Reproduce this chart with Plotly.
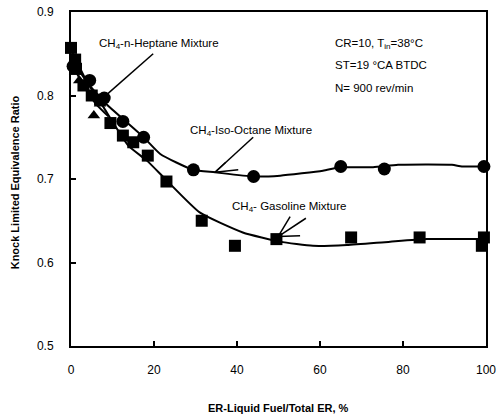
import plotly.graph_objects as go

# ---- data ----
gas_x = [0, 1, 1.2, 3, 5, 7, 9.5, 12.5, 15, 18.5, 23, 31.5, 39.5, 49.5, 67.5, 84, 99.5, 99]
gas_y = [0.857, 0.843, 0.832, 0.812, 0.800, 0.795, 0.767, 0.752, 0.744, 0.728, 0.697, 0.650, 0.620, 0.628, 0.630, 0.630, 0.630, 0.620]

iso_x = [0.5, 4.5, 8, 12.5, 17.5, 29.5, 44, 65, 75.5, 99.5]
iso_y = [0.835, 0.818, 0.797, 0.769, 0.750, 0.711, 0.703, 0.715, 0.712, 0.715]

hep_x = [1, 2, 5.5, 7]
hep_y = [0.828, 0.818, 0.776, 0.790]

# trend curves
gas_fit_x = [0, 4, 7.7, 13.8, 18.3, 23.1, 31, 41.4, 50.4, 58.3, 66.5, 76.9, 85.8, 100]
gas_fit_y = [0.855, 0.815, 0.787, 0.740, 0.722, 0.698, 0.660, 0.636, 0.625, 0.620, 0.621, 0.625, 0.628, 0.628]

iso_fit_x = [0, 4, 8.7, 17.3, 21.5, 29.4, 34.7, 43.9, 50.4, 60.7, 64.8, 72.8, 78.8, 91.8, 94.2, 100]
iso_fit_y = [0.845, 0.815, 0.789, 0.751, 0.730, 0.711, 0.708, 0.703, 0.704, 0.710, 0.714, 0.714, 0.717, 0.717, 0.715, 0.715]

hep_fit_x = [0, 3, 6, 9]
hep_fit_y = [0.840, 0.812, 0.790, 0.775]

x_ticks = [0, 20, 40, 60, 80, 100]
y_ticks = [0.5, 0.6, 0.7, 0.8, 0.9]

FONT = "Liberation Sans, Arial, sans-serif"

fig = go.Figure()
for fx, fy in [(gas_fit_x, gas_fit_y), (iso_fit_x, iso_fit_y), (hep_fit_x, hep_fit_y)]:
    fig.add_trace(go.Scatter(x=fx, y=fy, mode="lines", line=dict(color="black", width=2, shape="spline", smoothing=0.5),
                             showlegend=False, hoverinfo="skip"))

fig.add_trace(go.Scatter(x=gas_x, y=gas_y, mode="markers", marker=dict(symbol="square", size=12, color="black"),
                         cliponaxis=False, showlegend=False))
fig.add_trace(go.Scatter(x=iso_x, y=iso_y, mode="markers", marker=dict(symbol="circle", size=13, color="black"),
                         cliponaxis=False, showlegend=False))
fig.add_trace(go.Scatter(x=hep_x, y=hep_y, mode="markers", marker=dict(symbol="triangle-up", size=11, color="black"),
                         cliponaxis=False, showlegend=False))

# pointer lines (open arrows)
pointers = [
    # heptane
    (19.8, 0.850, 8.6, 0.801),
    # iso-octane shaft and barbs
    (43.9, 0.750, 34.7, 0.708),
    (34.7, 0.708, 40.3, 0.711),
    (34.7, 0.708, 37.3, 0.720),
    # gasoline shaft and barbs
    (56.6, 0.653, 49.9, 0.631),
    (49.9, 0.631, 52.8, 0.655),
    (49.9, 0.631, 55.2, 0.632),
]
for x0, y0, x1, y1 in pointers:
    fig.add_shape(type="line", x0=x0, y0=y0, x1=x1, y1=y1, xref="x", yref="y",
                  line=dict(color="black", width=1.5))

labels = [
    ("CH<sub>4</sub>-n-Heptane Mixture", 6.2, 0.862),
    ("CH<sub>4</sub>-Iso-Octane Mixture", 28.1, 0.757),
    ("CH<sub>4</sub>- Gasoline Mixture", 38.3, 0.667),
    ("CR=10, T<sub>in</sub>=38°C", 63.2, 0.862),
    ("ST=19 °CA BTDC", 63.2, 0.836),
    ("N= 900 rev/min", 63.2, 0.809),
]
for txt, lx, ly in labels:
    fig.add_annotation(text=txt, x=lx, y=ly, xref="x", yref="y", xanchor="left", yanchor="middle",
                       showarrow=False, font=dict(family=FONT, size=11.5, color="black"))

fig.add_annotation(text="<b>Knock Limited Equivalence Ratio</b>", xref="paper", yref="paper",
                   x=-0.135, y=0.49, textangle=-90, showarrow=False, xanchor="center", yanchor="middle",
                   font=dict(family=FONT, size=11, color="black"))
fig.add_annotation(text="<b>ER-Liquid Fuel/Total ER, %</b>", xref="paper", yref="paper",
                   x=0.499, y=-0.186, showarrow=False, xanchor="center", yanchor="middle",
                   font=dict(family=FONT, size=11, color="black"))

axis_common = dict(showline=True, linecolor="black", linewidth=2, mirror=True, ticks="inside",
                   ticklen=5, tickwidth=1.5, tickcolor="black", showgrid=False, zeroline=False,
                   automargin=False, ticklabeloverflow="allow",
                   tickfont=dict(family=FONT, size=12, color="black"))
fig.update_xaxes(range=[0, 100], tickvals=x_ticks, ticklabelstandoff=12, **axis_common)
fig.update_yaxes(range=[0.5, 0.9], tickvals=y_ticks, tickformat=".1f", ticklabelstandoff=13, **axis_common)

fig.update_layout(width=497, height=417, margin=dict(l=71, r=11, t=12, b=71, autoexpand=False),
                  plot_bgcolor="white", paper_bgcolor="white", showlegend=False)

# remove the page's default body margin so the figure fills the window exactly
fig.write_html("out.html", config={"displayModeBar": False},
               post_script="document.body.style.margin='0';document.body.style.overflow='hidden';")
